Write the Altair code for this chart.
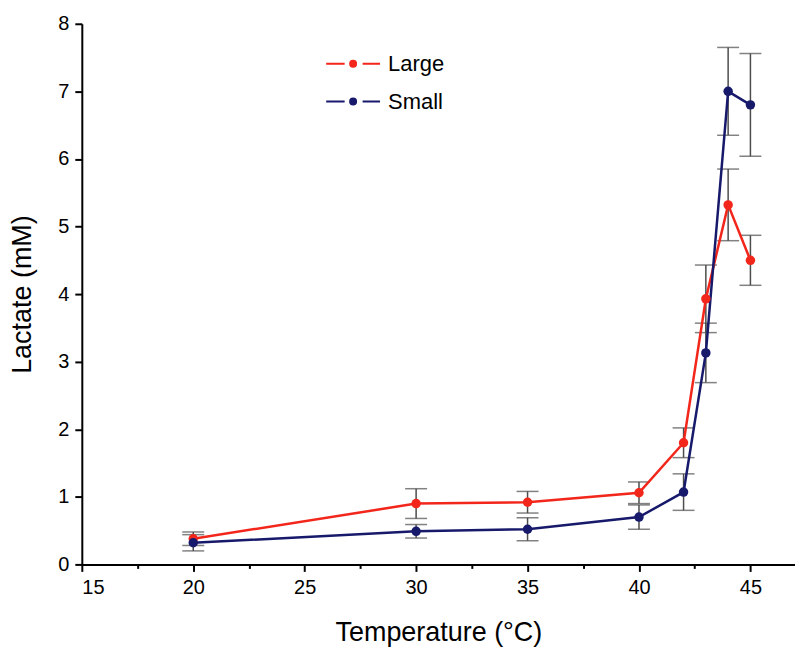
import altair as alt
import pandas as pd

# ---- data ----
temps = [20, 30, 35, 40, 42, 43, 44, 45]
large_mean = [0.38, 0.90, 0.92, 1.06, 1.80, 3.93, 5.32, 4.50]
large_err = [0.10, 0.22, 0.16, 0.16, 0.22, 0.50, 0.53, 0.37]
small_mean = [0.32, 0.49, 0.52, 0.70, 1.07, 3.13, 7.00, 6.80]
small_err = [0.12, 0.10, 0.17, 0.18, 0.27, 0.44, 0.65, 0.76]

series_names = ["Large", "Small"]
series_colors = ["#f2261b", "#17196b"]

x_ticks = [15, 17.5, 20, 22.5, 25, 27.5, 30, 32.5, 35, 37.5, 40, 42.5, 45]
y_ticks = [0, 0.5, 1, 1.5, 2, 2.5, 3, 3.5, 4, 4.5, 5, 5.5, 6, 6.5, 7, 7.5, 8]

rows = []
for name, means, errs in [("Large", large_mean, large_err), ("Small", small_mean, small_err)]:
    for t, m, e in zip(temps, means, errs):
        rows.append({"series": name, "temp": t, "mean": m, "lo": m - e, "hi": m + e})
df = pd.DataFrame(rows)

FONT = "Liberation Sans"

x_scale = alt.Scale(domain=[15, 47], nice=False, zero=False)
y_scale = alt.Scale(domain=[0, 8], nice=False)
color_scale = alt.Scale(domain=series_names, range=series_colors)

x_axis = alt.Axis(
    title="Temperature (°C)",
    values=x_ticks,
    format="d",
    labelExpr="datum.value % 5 == 0 ? datum.label : ''",
    tickSize={"condition": {"test": "datum.value % 5 == 0", "value": 7}, "value": 4},
    labelPadding=6,
    titlePadding=22,
)
y_axis = alt.Axis(
    title="Lactate (mM)",
    values=y_ticks,
    format=".0f",
    labelExpr="datum.value % 1 == 0 ? datum.label : ''",
    tickSize={"condition": {"test": "datum.value % 1 == 0", "value": 7}, "value": 4},
    labelPadding=6,
    titlePadding=21,
)

legend_path = (
    "M-2.7,0H-0.85M0.95,0H2.7"
    "M-0.3,0A0.3,0.3 0 1,0 0.3,0A0.3,0.3 0 1,0 -0.3,0"
)


def make_legend():
    return alt.Legend(
        title=None,
        orient="none",
        legendX=261,
        legendY=29,
        symbolType=legend_path,
        symbolSize=400,
        symbolStrokeWidth=2,
        labelFont=FONT,
        labelFontSize=22,
        labelColor="black",
        labelOffset=24,
        rowPadding=16,
        padding=0,
    )


base = alt.Chart(df)

err_rule = base.mark_rule(color="#4d4d4d", strokeWidth=1.5).encode(
    x=alt.X("temp:Q", scale=x_scale, axis=x_axis),
    y=alt.Y("lo:Q", scale=y_scale, axis=y_axis),
    y2="hi:Q",
)
cap_lo = base.mark_tick(orient="horizontal", size=22, thickness=1.5, color="#4d4d4d").encode(
    x="temp:Q", y="lo:Q"
)
cap_hi = base.mark_tick(orient="horizontal", size=22, thickness=1.5, color="#4d4d4d").encode(
    x="temp:Q", y="hi:Q"
)

lines = base.mark_line(strokeWidth=2.5).encode(
    x="temp:Q",
    y="mean:Q",
    color=alt.Color("series:N", scale=color_scale, legend=make_legend()),
)

points = base.mark_point(filled=True, size=90, opacity=1).encode(
    x="temp:Q",
    y="mean:Q",
    color=alt.Color("series:N", scale=color_scale, legend=make_legend()),
)

chart = (
    alt.layer(err_rule, cap_lo, cap_hi, lines, points)
    .properties(
        width=715,
        height=542,
        autosize=alt.AutoSizeParams(type="none"),
        padding={"left": 74, "top": 15, "right": 0, "bottom": 85},
        background="white",
    )
    .configure_view(stroke=None)
    .configure_axis(
        grid=False,
        domainColor="black",
        domainWidth=2,
        tickColor="black",
        tickWidth=2,
        labelFont=FONT,
        labelFontSize=20,
        labelColor="black",
        titleFont=FONT,
        titleFontSize=27,
        titleFontWeight="normal",
        titleColor="black",
    )
)

chart.save("out.html", embed_options={"renderer": "svg", "actions": False})
